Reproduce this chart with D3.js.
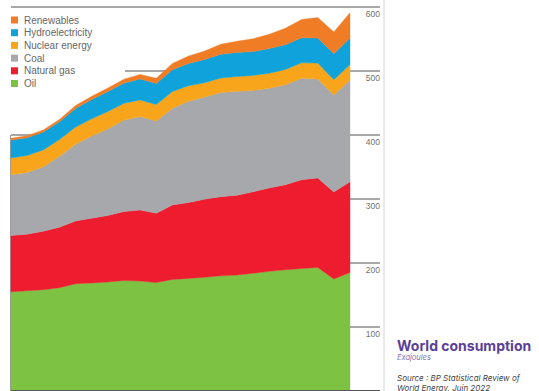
<!DOCTYPE html>
<html>
<head>
<meta charset="utf-8">
<script src="https://cdn.jsdelivr.net/npm/d3@7"></script>
<style>
  html, body { margin: 0; padding: 0; background: #fff; }
  svg { display: block; }
</style>
</head>
<body>
<svg id="chart" width="539" height="391"></svg>
<script>
// World primary energy consumption by source, exajoules
const years = d3.range(2000, 2022);
const oil        = [155, 156.6, 158.3, 161.4, 167.4, 168.8, 170.4, 172.6, 171.8, 169.4, 174.3, 175.9, 177.8, 179.9, 181.2, 184.0, 187.0, 189.3, 191.4, 193, 175, 185];
const naturalGas = [88, 88.5, 91.4, 94.4, 98.2, 101.2, 103.8, 107.7, 111.0, 108.5, 116.5, 118.7, 122.0, 123.8, 124.6, 127.2, 130.3, 133.1, 138.5, 140, 136, 142];
const coal       = [95, 96.5, 100.5, 111, 120, 128.5, 135.5, 143, 146, 144, 151, 158, 159.5, 162.7, 162.5, 158.5, 155.6, 156.3, 158.6, 154.5, 151.5, 159];
const nuclear    = [26, 26.5, 26.5, 26, 26.8, 26.8, 27, 26.3, 26, 25.6, 26, 24.5, 22.5, 22.6, 23, 23.3, 23.6, 23.7, 24.2, 25, 24, 24];
const hydro      = [28, 27.5, 27.8, 27.8, 29.2, 30.3, 31.2, 31.5, 32.8, 32.8, 34.2, 34.8, 36.2, 37.2, 37.8, 37.3, 38.5, 38.8, 39.2, 39, 40.5, 41.5];
const renewables = [3, 3.2, 3.5, 3.8, 4.3, 4.8, 5.4, 6.2, 7.1, 8.2, 9.7, 11.4, 13.4, 15.5, 17.5, 20, 22.4, 25.6, 28.6, 32, 34, 39.5];

const seriesNames  = ["Oil", "Natural gas", "Coal", "Nuclear energy", "Hydroelectricity", "Renewables"];
const seriesColors = ["#7dc242", "#ed1c2e", "#a7a8ab", "#f8a51b", "#10a3db", "#f07c26"];
const yTicks = [100, 200, 300, 400, 500, 600];

const seriesValues = [oil, naturalGas, coal, nuclear, hydro, renewables];
const rows = years.map((yr, i) => {
  const r = { year: yr };
  seriesNames.forEach((n, k) => r[n] = seriesValues[k][i]);
  return r;
});

const svg = d3.select("#chart");
const x = d3.scaleLinear().domain([2000, 2021]).range([11, 350]);
const y = d3.scaleLinear().domain([0, 600]).range([391, 7]);
const gridRight = 380;

// gridlines behind everything
svg.append("g")
  .selectAll("line")
  .data(yTicks)
  .join("line")
  .attr("x1", x(2000)).attr("x2", gridRight)
  .attr("y1", d => y(d)).attr("y2", d => y(d))
  .attr("stroke", "#8a8a8a").attr("stroke-width", 1.3);

// right-hand frame line
svg.append("line")
  .attr("x1", 384).attr("x2", 384).attr("y1", 0).attr("y2", 391)
  .attr("stroke", "#d6d6d6").attr("stroke-width", 1);

// left edge of the plot
svg.append("line")
  .attr("x1", x(2000) - 0.5).attr("x2", x(2000) - 0.5)
  .attr("y1", y(400)).attr("y2", y(0))
  .attr("stroke", "#9a9a9a").attr("stroke-width", 1);

// white panel behind the legend
svg.append("rect")
  .attr("x", 0).attr("y", 10).attr("width", 125).attr("height", 82)
  .attr("fill", "#fff");

// stacked areas
const stack = d3.stack().keys(seriesNames);
const layers = stack(rows);
const area = d3.area()
  .x(d => x(d.data.year))
  .y0(d => y(d[0]))
  .y1(d => y(d[1]));

svg.append("g")
  .selectAll("path")
  .data(layers)
  .join("path")
  .attr("d", area)
  .attr("fill", (d, i) => seriesColors[i])
  .attr("stroke", (d, i) => seriesColors[i])
  .attr("stroke-width", 0.4);

// baseline
svg.append("line")
  .attr("x1", x(2000)).attr("x2", gridRight)
  .attr("y1", y(0) - 0.5).attr("y2", y(0) - 0.5)
  .attr("stroke", "#555").attr("stroke-width", 1.2);

// tick labels on the right
svg.append("g")
  .selectAll("text")
  .data(yTicks)
  .join("text")
  .attr("x", 380)
  .attr("y", d => y(d) + 10)
  .attr("text-anchor", "end")
  .attr("font-family", "Liberation Sans, Arial, sans-serif")
  .attr("font-size", 8.5)
  .attr("fill", "#707070")
  .text(d => d);

// legend, top entry first
const legend = svg.append("g").attr("font-family", "Liberation Sans, Arial, sans-serif");
const legendOrder = d3.range(seriesNames.length).reverse();
legendOrder.forEach((k, j) => {
  const cy = 20 + j * 12.7;
  legend.append("rect")
    .attr("x", 11).attr("y", cy - 3.5).attr("width", 7).attr("height", 7)
    .attr("fill", seriesColors[k]);
  legend.append("text")
    .attr("x", 24).attr("y", cy + 3.5)
    .attr("font-size", 10)
    .attr("fill", "#666")
    .text(seriesNames[k]);
});

// title block
svg.append("text")
  .attr("x", 397).attr("y", 351)
  .attr("font-family", "Inter, Open Sans, sans-serif")
  .attr("font-weight", 700)
  .attr("font-size", 14)
  .attr("fill", "#5b3f99")
  .text("World consumption");

svg.append("text")
  .attr("x", 397).attr("y", 360)
  .attr("font-family", "Inter, Open Sans, sans-serif")
  .attr("font-style", "italic")
  .attr("font-size", 7.5)
  .attr("fill", "#8070b0")
  .text("Exajoules");

svg.append("text")
  .attr("x", 397).attr("y", 380.5)
  .attr("font-family", "Inter, Open Sans, sans-serif")
  .attr("font-style", "italic")
  .attr("font-size", 8)
  .attr("fill", "#444")
  .text("Source : BP Statistical Review of");

svg.append("text")
  .attr("x", 397).attr("y", 390.5)
  .attr("font-family", "Inter, Open Sans, sans-serif")
  .attr("font-style", "italic")
  .attr("font-size", 8)
  .attr("fill", "#444")
  .text("World Energy, Juin 2022");
</script>
</body>
</html>
